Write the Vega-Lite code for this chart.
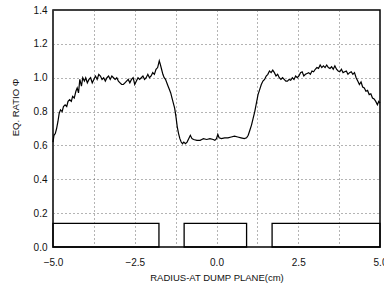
{
  "$schema": "https://vega.github.io/schema/vega-lite/v6.json",
  "width": 327,
  "height": 237,
  "autosize": {"type": "none"},
  "padding": {"left": 53, "top": 10, "right": 4, "bottom": 38},
  "background": "white",
  "config": {
    "view": {"stroke": "black", "strokeWidth": 1.5},
    "font": "Liberation Sans",
    "axis": {
      "labelFont": "Liberation Sans",
      "titleFont": "Liberation Sans",
      "labelFontSize": 10,
      "titleFontSize": 9.5,
      "titleFontWeight": "normal",
      "labelColor": "#111",
      "titleColor": "#111",
      "labelOverlap": false,
      "domain": false,
      "ticks": false,
      "gridColor": "#444",
      "gridDash": [1, 3],
      "gridWidth": 1,
      "gridOpacity": 0.8
    }
  },
  "encoding": {
    "x": {"type": "quantitative", "scale": {"domain": [-5, 5], "nice": false, "zero": false},
      "axis": {"values": [-5, -3.75, -2.5, -1.25, 0, 1.25, 2.5, 3.75, 5], "labelExpr": "abs(datum.value % 2.5) < 0.001 ? format(datum.value, '.1f') : ''", "title": "RADIUS-AT DUMP PLANE(cm)", "labelPadding": 10, "titleY": 30, "titleBaseline": "middle", "labelFlush": false, "labelOverlap": false}},
    "y": {"type": "quantitative", "scale": {"domain": [0, 1.4], "nice": false},
      "axis": {"values": [0, 0.2, 0.4, 0.6, 0.8, 1.0, 1.2, 1.4], "format": ".1f", "title": "EQ. RATIO Φ", "labelPadding": 6, "titleX": -38, "titleY": 97, "titleAlign": "center", "titleBaseline": "middle", "labelFlush": false, "labelOverlap": false}}
  },
  "layer": [
    {
      "data": {"values": [
        {"x0": -5.0, "x1": -1.76, "b": 0, "h": 0.14},
        {"x0": -0.99, "x1": 0.92, "b": 0, "h": 0.14},
        {"x0": 1.7, "x1": 5.0, "b": 0, "h": 0.14}
      ]},
      "mark": {"type": "rect", "fill": "white", "fillOpacity": 0, "stroke": "black", "strokeWidth": 1.3},
      "encoding": {
        "x": {"field": "x0"},
        "x2": {"field": "x1"},
        "y": {"field": "b"},
        "y2": {"field": "h"}
      }
    },
    {
      "data": {"values": [
        {"x": -5.00, "y": 0.62}, {"x": -4.97, "y": 0.66}, {"x": -4.93, "y": 0.67}, {"x": -4.89, "y": 0.70},
        {"x": -4.85, "y": 0.74}, {"x": -4.81, "y": 0.79}, {"x": -4.77, "y": 0.81}, {"x": -4.72, "y": 0.80},
        {"x": -4.68, "y": 0.83}, {"x": -4.63, "y": 0.84}, {"x": -4.58, "y": 0.83}, {"x": -4.54, "y": 0.86},
        {"x": -4.49, "y": 0.87}, {"x": -4.44, "y": 0.86}, {"x": -4.40, "y": 0.89}, {"x": -4.35, "y": 0.88},
        {"x": -4.30, "y": 0.92}, {"x": -4.26, "y": 0.94}, {"x": -4.22, "y": 0.91}, {"x": -4.18, "y": 0.99},
        {"x": -4.13, "y": 0.95}, {"x": -4.09, "y": 1.00}, {"x": -4.04, "y": 0.98}, {"x": -4.00, "y": 1.00},
        {"x": -3.95, "y": 0.97}, {"x": -3.90, "y": 0.99}, {"x": -3.85, "y": 1.00}, {"x": -3.80, "y": 0.97},
        {"x": -3.75, "y": 0.99}, {"x": -3.70, "y": 1.01}, {"x": -3.65, "y": 0.99}, {"x": -3.60, "y": 1.02},
        {"x": -3.55, "y": 1.01}, {"x": -3.50, "y": 0.99}, {"x": -3.45, "y": 1.00}, {"x": -3.40, "y": 0.98},
        {"x": -3.35, "y": 1.00}, {"x": -3.30, "y": 1.01}, {"x": -3.25, "y": 0.99}, {"x": -3.20, "y": 1.01},
        {"x": -3.15, "y": 1.00}, {"x": -3.10, "y": 0.99}, {"x": -3.05, "y": 1.00}, {"x": -3.00, "y": 0.98},
        {"x": -2.95, "y": 0.97}, {"x": -2.90, "y": 0.96}, {"x": -2.85, "y": 0.96}, {"x": -2.80, "y": 0.97},
        {"x": -2.75, "y": 0.98}, {"x": -2.70, "y": 0.99}, {"x": -2.65, "y": 0.97}, {"x": -2.60, "y": 0.99},
        {"x": -2.55, "y": 1.00}, {"x": -2.50, "y": 0.96}, {"x": -2.45, "y": 0.98}, {"x": -2.40, "y": 1.00},
        {"x": -2.35, "y": 0.99}, {"x": -2.30, "y": 1.00}, {"x": -2.25, "y": 1.01}, {"x": -2.20, "y": 0.99},
        {"x": -2.15, "y": 1.00}, {"x": -2.10, "y": 1.02}, {"x": -2.05, "y": 1.00}, {"x": -2.00, "y": 1.01},
        {"x": -1.95, "y": 1.03}, {"x": -1.90, "y": 1.02}, {"x": -1.85, "y": 1.05}, {"x": -1.80, "y": 1.06},
        {"x": -1.75, "y": 1.10}, {"x": -1.72, "y": 1.08}, {"x": -1.68, "y": 1.05}, {"x": -1.64, "y": 1.02},
        {"x": -1.60, "y": 1.00}, {"x": -1.56, "y": 0.99}, {"x": -1.52, "y": 0.97}, {"x": -1.48, "y": 0.95},
        {"x": -1.44, "y": 0.93}, {"x": -1.40, "y": 0.91}, {"x": -1.36, "y": 0.88}, {"x": -1.32, "y": 0.85},
        {"x": -1.28, "y": 0.82}, {"x": -1.24, "y": 0.77}, {"x": -1.20, "y": 0.71}, {"x": -1.16, "y": 0.67},
        {"x": -1.12, "y": 0.64}, {"x": -1.08, "y": 0.62}, {"x": -1.04, "y": 0.61}, {"x": -1.00, "y": 0.62},
        {"x": -0.95, "y": 0.61}, {"x": -0.90, "y": 0.62}, {"x": -0.85, "y": 0.64}, {"x": -0.80, "y": 0.66},
        {"x": -0.75, "y": 0.64}, {"x": -0.70, "y": 0.635}, {"x": -0.60, "y": 0.63}, {"x": -0.50, "y": 0.63},
        {"x": -0.45, "y": 0.635}, {"x": -0.40, "y": 0.64}, {"x": -0.30, "y": 0.635}, {"x": -0.20, "y": 0.64},
        {"x": -0.10, "y": 0.635}, {"x": -0.05, "y": 0.63}, {"x": 0.00, "y": 0.64}, {"x": 0.04, "y": 0.665},
        {"x": 0.08, "y": 0.645}, {"x": 0.15, "y": 0.64}, {"x": 0.25, "y": 0.645}, {"x": 0.35, "y": 0.645},
        {"x": 0.45, "y": 0.65}, {"x": 0.55, "y": 0.655}, {"x": 0.65, "y": 0.65}, {"x": 0.75, "y": 0.645},
        {"x": 0.85, "y": 0.64}, {"x": 0.92, "y": 0.645}, {"x": 0.97, "y": 0.66}, {"x": 1.02, "y": 0.69},
        {"x": 1.07, "y": 0.72}, {"x": 1.12, "y": 0.76}, {"x": 1.17, "y": 0.80}, {"x": 1.22, "y": 0.85},
        {"x": 1.27, "y": 0.90}, {"x": 1.32, "y": 0.93}, {"x": 1.37, "y": 0.96}, {"x": 1.42, "y": 0.98},
        {"x": 1.47, "y": 0.99}, {"x": 1.52, "y": 1.01}, {"x": 1.57, "y": 1.02}, {"x": 1.62, "y": 1.04},
        {"x": 1.67, "y": 1.03}, {"x": 1.72, "y": 1.045}, {"x": 1.77, "y": 1.03}, {"x": 1.82, "y": 1.01},
        {"x": 1.87, "y": 1.02}, {"x": 1.92, "y": 1.00}, {"x": 1.97, "y": 0.99}, {"x": 2.02, "y": 1.00},
        {"x": 2.07, "y": 0.99}, {"x": 2.12, "y": 0.98}, {"x": 2.17, "y": 0.98}, {"x": 2.22, "y": 0.99},
        {"x": 2.27, "y": 0.985}, {"x": 2.32, "y": 1.00}, {"x": 2.37, "y": 0.99}, {"x": 2.42, "y": 1.01},
        {"x": 2.47, "y": 1.00}, {"x": 2.52, "y": 1.01}, {"x": 2.57, "y": 1.03}, {"x": 2.62, "y": 1.035},
        {"x": 2.67, "y": 1.01}, {"x": 2.72, "y": 1.02}, {"x": 2.77, "y": 1.025}, {"x": 2.82, "y": 1.03},
        {"x": 2.87, "y": 1.02}, {"x": 2.92, "y": 1.04}, {"x": 2.97, "y": 1.035}, {"x": 3.02, "y": 1.05},
        {"x": 3.07, "y": 1.06}, {"x": 3.12, "y": 1.055}, {"x": 3.17, "y": 1.075}, {"x": 3.22, "y": 1.06},
        {"x": 3.27, "y": 1.07}, {"x": 3.32, "y": 1.06}, {"x": 3.37, "y": 1.075}, {"x": 3.42, "y": 1.06},
        {"x": 3.47, "y": 1.055}, {"x": 3.52, "y": 1.065}, {"x": 3.57, "y": 1.05}, {"x": 3.62, "y": 1.07},
        {"x": 3.67, "y": 1.05}, {"x": 3.72, "y": 1.04}, {"x": 3.77, "y": 1.035}, {"x": 3.82, "y": 1.05},
        {"x": 3.87, "y": 1.03}, {"x": 3.92, "y": 1.035}, {"x": 3.97, "y": 1.04}, {"x": 4.02, "y": 1.02},
        {"x": 4.07, "y": 1.03}, {"x": 4.12, "y": 1.035}, {"x": 4.17, "y": 1.02}, {"x": 4.22, "y": 1.03},
        {"x": 4.27, "y": 1.00}, {"x": 4.32, "y": 0.98}, {"x": 4.37, "y": 0.96}, {"x": 4.42, "y": 0.975},
        {"x": 4.47, "y": 0.945}, {"x": 4.52, "y": 0.94}, {"x": 4.57, "y": 0.92}, {"x": 4.62, "y": 0.925},
        {"x": 4.67, "y": 0.90}, {"x": 4.72, "y": 0.905}, {"x": 4.77, "y": 0.88}, {"x": 4.82, "y": 0.875},
        {"x": 4.87, "y": 0.86}, {"x": 4.92, "y": 0.84}, {"x": 4.96, "y": 0.86}, {"x": 5.00, "y": 0.85}
      ]},
      "mark": {"type": "line", "color": "black", "strokeWidth": 1.2},
      "encoding": {
        "x": {"field": "x"},
        "y": {"field": "y"}
      }
    }
  ]
}
